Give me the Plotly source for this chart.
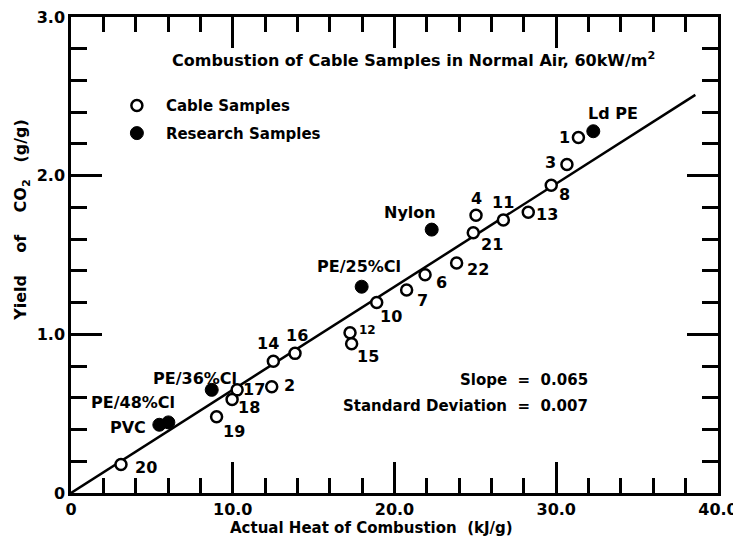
import plotly.graph_objects as go

# ---- data ----
cable_labels = ["1", "2", "3", "4", "6", "7", "8", "10", "11", "12", "13", "14",
                "15", "16", "17", "18", "19", "20", "21", "22"]
cable_heat = [31.37, 12.41, 30.66, 25.04, 21.89, 20.75, 29.69, 18.90, 26.73, 17.25,
              28.27, 12.51, 17.35, 13.85, 10.27, 9.96, 9.00, 3.09, 24.87, 23.84]
cable_co2 = [2.24, 0.67, 2.07, 1.75, 1.375, 1.28, 1.94, 1.20, 1.72, 1.01,
             1.77, 0.83, 0.94, 0.88, 0.65, 0.59, 0.48, 0.18, 1.64, 1.45]

research_labels = ["Ld PE", "Nylon", "PE/25%Cl", "PE/36%Cl", "PE/48%Cl", "PVC"]
research_heat = [32.29, 22.30, 17.97, 8.70, 6.02, 5.46]
research_co2 = [2.28, 1.66, 1.30, 0.65, 0.445, 0.43]

fit_slope = 0.065
fit_x = [0.0, 38.6]
fit_y = [fit_slope * v for v in fit_x]

x_tickvals = [0, 10, 20, 30, 40]
x_ticktext = ["0", "10.0", "20.0", "30.0", "40.0"]
y_tickvals = [0, 1, 2, 3]
y_ticktext = ["0", "1.0", "2.0", "3.0"]

# ---- label offsets (px, right / down) ----
offsets = {
    "1": (-14, 0), "2": (18, -1), "3": (-16, -2), "4": (0, -17), "6": (16, 8),
    "7": (16, 11), "8": (13, 9), "10": (14, 14), "11": (0, -18), "12": (17, -3),
    "13": (19, 2), "14": (-5, -18), "15": (16, 13), "16": (2, -18), "17": (17, 0),
    "18": (17, 8), "19": (17, 15), "20": (25, 3), "21": (19, 12), "22": (21, 7),
    "Ld PE": (20, -18), "Nylon": (-22, -17), "PE/25%Cl": (-3, -20),
    "PE/36%Cl": (-17, -11), "PE/48%Cl": (-35, -20), "PVC": (-31, 3),
}

FONT = "DejaVu Sans"
fig = go.Figure()

fig.add_trace(go.Scatter(x=fit_x, y=fit_y, mode="lines",
                         line=dict(color="black", width=2.5), showlegend=False,
                         hoverinfo="skip"))
fig.add_trace(go.Scatter(x=cable_heat, y=cable_co2, mode="markers", name="Cable Samples",
                         legendgroup="a",
                         marker=dict(symbol="circle", size=11, color="white",
                                     line=dict(color="black", width=2.5))))
fig.add_trace(go.Scatter(x=research_heat, y=research_co2, mode="markers",
                         name="Research Samples", legendgroup="b",
                         marker=dict(symbol="circle", size=13, color="black",
                                     line=dict(color="black", width=1))))

annotations = []
for lab, xv, yv in list(zip(cable_labels, cable_heat, cable_co2)) + \
        list(zip(research_labels, research_heat, research_co2)):
    dx, dy = offsets[lab]
    annotations.append(dict(x=xv, y=yv, xref="x", yref="y", text=lab, showarrow=False,
                            xshift=dx, yshift=-dy, xanchor="center", yanchor="middle",
                            font=dict(size=12 if lab == "12" else 16)))

annotations += [
    dict(x=0.5286, y=0.9106, xref="paper", yref="paper", xanchor="center",
         yanchor="middle",
         text="Combustion of Cable Samples in Normal Air, 60kW/m<sup>2</sup>",
         showarrow=False, font=dict(size=16)),
    dict(x=0.802, y=0.2376, xref="paper", yref="paper", xanchor="right",
         yanchor="middle",
         text="Slope  =  0.065", showarrow=False, font=dict(size=15)),
    dict(x=0.802, y=0.183, xref="paper", yref="paper", xanchor="right",
         yanchor="middle",
         text="Standard Deviation  =  0.007", showarrow=False, font=dict(size=15)),
    dict(x=0.4637, y=-0.073, xref="paper", yref="paper", yanchor="middle",
         xanchor="center",
         text="Actual Heat of Combustion  (kJ/g)", showarrow=False, font=dict(size=15)),
    dict(x=-0.0757, y=0.574, xref="paper", yref="paper", textangle=-90,
         xanchor="center", yanchor="middle",
         text="Yield    of    CO<sub>2</sub>   (g/g)", showarrow=False, font=dict(size=16)),
]

axis_common = dict(showline=True, linecolor="black", linewidth=2.5, mirror="ticks",
                   ticks="inside", tickcolor="black", tickwidth=2.5, ticklen=31,
                   showgrid=False, zeroline=False, automargin=False,
                   ticklabeloverflow="allow",
                   tickfont=dict(size=16, family=FONT, color="black"))

fig.update_xaxes(range=[0, 40], tickvals=x_tickvals, ticktext=x_ticktext,
                 minor=dict(ticks="inside", dtick=2, ticklen=15, tickwidth=2.5,
                            tickcolor="black", showgrid=False), **axis_common)
fig.update_yaxes(range=[0, 3], tickvals=y_tickvals, ticktext=y_ticktext,
                 minor=dict(ticks="inside", dtick=0.2, ticklen=16, tickwidth=2.5,
                            tickcolor="black", showgrid=False), **axis_common)

# the page body keeps its default 8px margin, so the figure is 8px smaller
fig.update_layout(
    width=733, height=546,
    margin=dict(l=63, r=23, t=9, b=61, autoexpand=False),
    paper_bgcolor="white", plot_bgcolor="white",
    font=dict(family=FONT, color="black", size=15, weight="bold"),
    showlegend=True,
    legend=dict(x=0.057, y=0.848, xanchor="left", yanchor="top",
                bgcolor="rgba(0,0,0,0)", font=dict(size=15), tracegroupgap=5,
                itemwidth=48),
    annotations=annotations,
)

fig.write_html("out.html")
